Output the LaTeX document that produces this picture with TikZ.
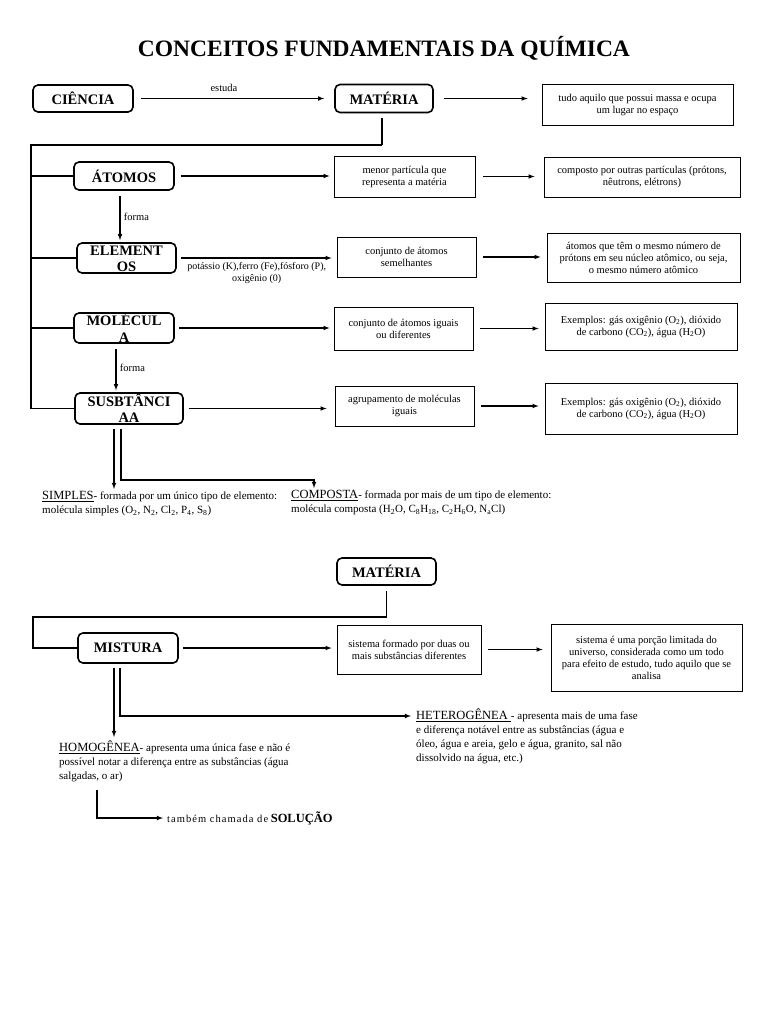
\documentclass[tikz,border=0pt]{standalone}
\usepackage{fontspec}
\setmainfont{Liberation Serif}
\usetikzlibrary{arrows,positioning,shapes}
\newcommand{\destaque}{\fontsize{12.5}{14}\selectfont}
\newcommand{\quebra}[2]{\raisebox{-6pt}[0pt][0pt]{\begin{tabular}{@{}c@{}}#1\\#2\end{tabular}}}

\begin{document}
\begin{tikzpicture}
  [x=1pt, y=-1pt, >=latex,
   conceito/.style={draw, rounded corners=5pt, line width=1.6pt, align=center, inner sep=1pt,
     font=\fontsize{14.5}{14}\selectfont\bfseries},
   quebrado/.style={conceito, inner sep=0pt, font=\fontsize{14.5}{16.5}\selectfont\bfseries},
   nota/.style={draw, line width=0.8pt, align=center, inner sep=2pt, font=\fontsize{10.5}{12}\selectfont},
   seta/.style={->, line width=1.1pt, shorten <=7pt, shorten >=6pt},
   ramo/.style={line width=1.1pt},
   rotulo/.style={font=\fontsize{10.5}{12}\selectfont},
   texto/.style={align=left, inner sep=0pt, font=\fontsize{11}{14}\selectfont}]
  \useasboundingbox (0,0) rectangle (768,1024);

  \node[font=\fontsize{23.5}{26}\selectfont\bfseries] (titulo) at (384,48) {CONCEITOS FUNDAMENTAIS DA QUÍMICA};

  \node[conceito, minimum width=100pt, minimum height=27pt] (ciencia) at (83,98.5) {CIÊNCIA};
  \node[conceito, minimum width=98pt, minimum height=28pt] (materia) at (384,98.5) {MATÉRIA};
  \node[nota, minimum width=191pt, minimum height=41pt] (defmateria) at (637.5,104.5)
    {tudo aquilo que possui massa e ocupa\\ um lugar no espaço};

  \node[conceito, minimum width=100pt, minimum height=28pt] (atomos) at (124,176) {ÁTOMOS};
  \node[nota, minimum width=141pt, minimum height=41pt] (defatomo) at (404.5,176.5)
    {menor partícula que\\ representa a matéria};
  \node[nota, minimum width=196pt, minimum height=40pt] (compatomo) at (642,177)
    {composto por outras partículas (prótons,\\ nêutrons, elétrons)};

  \node[quebrado, minimum width=99pt, minimum height=30pt] (elementos) at (126.5,258) {\quebra{ELEMENT}{OS}};
  \node[nota, minimum width=139pt, minimum height=40pt] (defelem) at (406.5,257)
    {conjunto de átomos\\ semelhantes};
  \node[nota, minimum width=193pt, minimum height=49pt] (numelem) at (643.5,257.5)
    {átomos que têm o mesmo número de\\ prótons em seu núcleo atômico, ou seja,\\ o mesmo número atômico};

  \node[quebrado, minimum width=100pt, minimum height=30pt] (molecula) at (124,328) {\quebra{MOLÉCUL}{A}};
  \node[nota, minimum width=139pt, minimum height=43pt] (defmolec) at (403.5,328.5)
    {conjunto de átomos iguais\\ ou diferentes};
  \node[nota, minimum width=192pt, minimum height=47pt] (exmolec) at (641,326.5)
    {Exemplos: gás oxigênio (O\textsubscript{2}), dióxido\\ de carbono (CO\textsubscript{2}), água (H\textsubscript{2}O)};

  \node[quebrado, minimum width=108pt, minimum height=31pt] (substancia) at (129,408.5) {\quebra{SUSBTÂNCI}{AA}};
  \node[nota, minimum width=139pt, minimum height=40pt] (defsubst) at (404.5,406)
    {agrupamento de moléculas\\ iguais};
  \node[nota, minimum width=192pt, minimum height=51pt] (exsubst) at (641,408.5)
    {Exemplos: gás oxigênio (O\textsubscript{2}), dióxido\\ de carbono (CO\textsubscript{2}), água (H\textsubscript{2}O)};

  \node[texto, anchor=north west] (simples) at (42,491)
    {{\destaque\underline{SIMPLES}}- formada por um único tipo de elemento:\\
     molécula simples (O\textsubscript{2}, N\textsubscript{2}, Cl\textsubscript{2}, P\textsubscript{4}, S\textsubscript{8})};
  \node[texto, anchor=north west] (composta) at (291,490)
    {{\destaque\underline{COMPOSTA}}- formada por mais de um tipo de elemento:\\
     molécula composta (H\textsubscript{2}O, C\textsubscript{8}H\textsubscript{18}, C\textsubscript{2}H\textsubscript{6}O, N\textsubscript{a}Cl)};

  \draw[seta, shorten >=10pt] (ciencia.east) -- node[above=3pt, pos=0.45, rotulo] {estuda} (ciencia.east -| materia.west);
  \draw[seta, shorten >=14pt, shorten <=10pt] (materia.east) -- (materia.east -| defmateria.west);
  \draw[seta, shorten >=4pt, shorten <=6pt] (atomos.east) -- (atomos.east -| defatomo.west);
  \draw[seta, shorten >=9pt, shorten <=8pt] (defatomo.east) -- (defatomo.east -| compatomo.west);
  \draw[seta, shorten >=5pt, shorten <=4pt] (elementos.east) --
    node[below=1pt, align=center, font=\fontsize{10}{12}\selectfont]
      {potássio (K),ferro (Fe),fósforo (P),\\ oxigênio (0)} (elementos.east -| defelem.west);
  \draw[seta] (defelem.east) -- (defelem.east -| numelem.west);
  \draw[seta, shorten >=4pt, shorten <=4pt] (molecula.east) -- (molecula.east -| defmolec.west);
  \draw[seta] (defmolec.east) -- (defmolec.east -| exmolec.west);
  \draw[seta, shorten >=8pt, shorten <=5pt] (substancia.east) -- (substancia.east -| defsubst.west);
  \draw[seta] (defsubst.east) -- (defsubst.east -| exsubst.west);

  \draw[seta, shorten <=5pt, shorten >=2pt] ([xshift=-4pt]atomos.south) --
    node[right, rotulo] {forma} ([xshift=-4pt]atomos.south |- elementos.north);
  \draw[seta, shorten <=5pt, shorten >=2pt] ([xshift=-8pt]molecula.south) --
    node[right, rotulo] {forma} ([xshift=-8pt]molecula.south |- substancia.north);

  \coordinate (tronco) at (31,145);
  \draw[line width=2.2pt] ([xshift=-2pt, yshift=-5pt]materia.south) -- ([xshift=-2pt]materia.south |- tronco);
  \draw[ramo] ([xshift=-2pt]materia.south |- tronco) -- (tronco) |- (substancia.west);
  \foreach \n in {atomos, elementos, molecula}
    \draw[ramo] (tronco |- \n.west) -- (\n.west);

  \coordinate (dobra) at (314,480);
  \draw[ramo, ->, shorten <=4pt, shorten >=2pt] ([xshift=-15pt]substancia.south) -- ([xshift=-15pt]substancia.south |- simples.north);
  \draw[ramo, ->, shorten <=4pt, shorten >=2pt] ([xshift=-8pt]substancia.south) |- (dobra) -- (dobra |- composta.north);

  \node[conceito, minimum width=99pt, minimum height=27pt] (materiaB) at (386.5,571.5) {MATÉRIA};
  \node[conceito, minimum width=100pt, minimum height=30pt] (mistura) at (128,648) {MISTURA};
  \node[nota, minimum width=144pt, minimum height=49pt] (defmist) at (409,649.5)
    {sistema formado por duas ou\\ mais substâncias diferentes};
  \node[nota, minimum width=191pt, minimum height=67pt] (defsist) at (646.5,657.5)
    {sistema é uma porção limitada do\\ universo, considerada como um todo\\ para efeito de estudo, tudo aquilo que se\\ analisa};

  \node[texto, anchor=north west] (heterogenea) at (416,709)
    {{\destaque\underline{HETEROGÊNEA\ }}- apresenta mais de uma fase\\
     e diferença notável entre as substâncias (água e\\
     óleo, água e areia, gelo e água, granito, sal não\\
     dissolvido na água, etc.)};
  \node[texto, anchor=north west] (homogenea) at (59,741)
    {{\destaque\underline{HOMOGÊNEA}}- apresenta uma única fase e não é\\
     possível notar a diferença entre as substâncias (água\\
     salgadas, o ar)};
  \node[anchor=west, inner sep=0pt, font=\fontsize{10.5}{12}\selectfont] (solucao) at (167,818)
    {{\addfontfeature{LetterSpace=10}também chamada de} {\bfseries\fontsize{12.5}{14}\selectfont SOLUÇÃO}};

  \coordinate (troncoB) at (33,617);
  \draw[ramo] ([yshift=-5pt]materiaB.south) |- (troncoB) |- (mistura.west);
  \draw[seta, shorten >=5pt, shorten <=4pt] (mistura.east) -- (mistura.east -| defmist.west);
  \draw[seta, shorten >=8pt] (defmist.east) -- (defmist.east -| defsist.west);

  \coordinate (hetero) at (411,716);
  \coordinate (desvio) at (97,790);
  \draw[ramo, ->, shorten <=4pt] ([xshift=-8pt]mistura.south) |- (hetero);
  \draw[ramo, ->, shorten <=4pt, shorten >=4pt] ([xshift=-14pt]mistura.south) -- ([xshift=-14pt]mistura.south |- homogenea.north);
  \draw[ramo, ->, shorten >=4pt] (desvio) |- (solucao.west);
\end{tikzpicture}
\end{document}
